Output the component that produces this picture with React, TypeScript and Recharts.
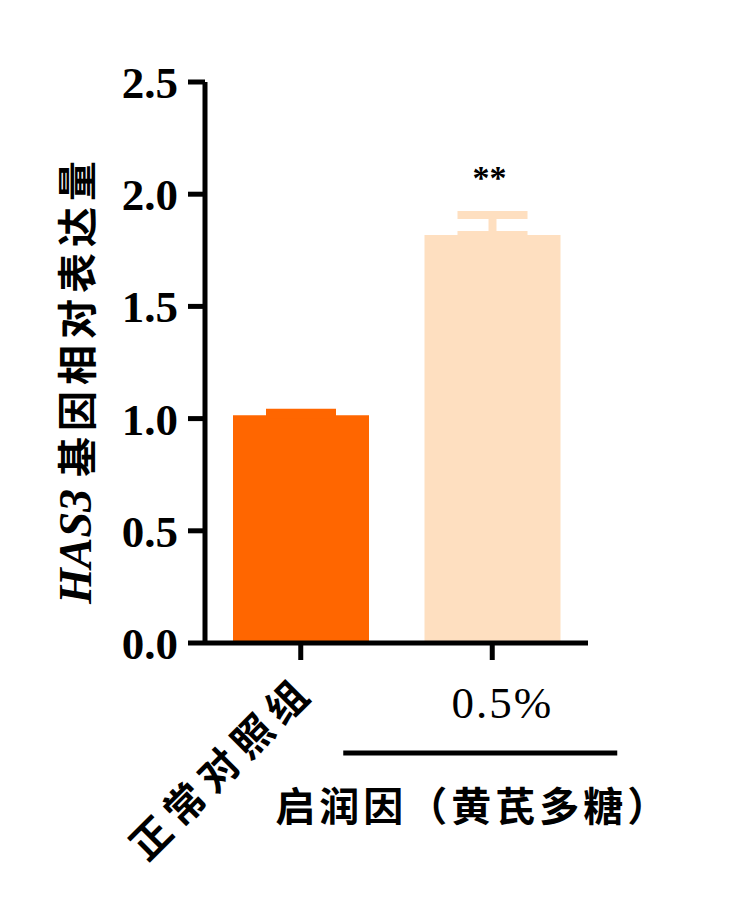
import React from 'react';
import { BarChart, Bar, XAxis, YAxis, ErrorBar, LabelList } from 'recharts';

// values
const categories = ['正常对照组', '0.5%'];
const means = [1.015, 1.818];
const errors = [0.013, 0.089];
const marks = ['', '**'];
const yTicks = [0, 0.5, 1.0, 1.5, 2.0, 2.5];
const groupLabel = '启润因（黄芪多糖）';
const colors = ['#FF6600', '#FEDFC0'];

const rows = categories.map((name, i) => ({
    name,
    control: i === 0 ? means[i] : null,
    controlErr: i === 0 ? [0, errors[i]] : null,
    treated: i === 1 ? means[i] : null,
    treatedErr: i === 1 ? [0, errors[i]] : null,
    mark: marks[i],
}));

const SERIF = '"Liberation Serif", "Times New Roman", serif';
const CJK = '"Noto Sans CJK SC", sans-serif';

function CategoryTick(props: any) {
    const { x, y, payload, index } = props;
    if (index === 0) {
        return (
            <g transform={`translate(${x + 6},${y + 23}) rotate(-45)`}>
                <text textAnchor="end" dy="0.35em" fill="#000" fontFamily={CJK} fontSize={40} fontWeight="bold" letterSpacing={8}>
                    {payload.value}
                </text>
            </g>
        );
    }
    return (
        <g transform={`translate(${x},${y})`}>
            <text x={10} y={58} textAnchor="middle" fill="#000" fontFamily={SERIF} fontSize={45} letterSpacing={2}>
                {payload.value}
            </text>
            <line x1={-149} x2={125} y1={93} y2={93} stroke="#000" strokeWidth={5} />
            <text x={-19} y={144} textAnchor="middle" dominantBaseline="central" fill="#000" fontFamily={CJK} fontSize={40} fontWeight="bold" letterSpacing={4}>
                {groupLabel}
            </text>
        </g>
    );
}

function YTitle(props: any) {
    const { viewBox } = props;
    const cx = 75;
    const cy = viewBox.y + viewBox.height / 2 + 17;
    return (
        <text transform={`translate(${cx},${cy}) rotate(-90)`} textAnchor="middle" dominantBaseline="central" fill="#000">
            <tspan fontFamily={SERIF} fontStyle="italic" fontWeight="bold" fontSize={46}>HAS3</tspan>
            <tspan fontFamily={CJK} fontWeight="bold" fontSize={40} letterSpacing={6} dx={12}>基因相对表达量</tspan>
        </text>
    );
}

function Stars(props: any) {
    const { x, y, width, value } = props;
    if (!value) return null;
    return (
        <text x={x + width / 2 - 3} y={y - 46} textAnchor="middle" fill="#000" fontFamily={SERIF} fontWeight="bold" fontSize={34}>
            {value}
        </text>
    );
}

export default function App() {
    return (
        <div style={{ position: 'absolute', left: 0, top: 0, width: 750, height: 907, background: '#fff' }}>
            <BarChart width={750} height={907} data={rows} barSize={136} barGap={-136}
                margin={{ top: 82, right: 162, bottom: 0, left: 0 }}>
                <YAxis
                    width={205}
                    domain={[0, 2.5]}
                    ticks={yTicks}
                    interval={0}
                    tickFormatter={(v: number) => v.toFixed(1)}
                    axisLine={{ stroke: '#000', strokeWidth: 5 }}
                    tickLine={{ stroke: '#000', strokeWidth: 5 }}
                    tickSize={17}
                    tickMargin={10}
                    tick={{ fill: '#000', fontSize: 45, fontFamily: SERIF, fontWeight: 'bold' }}
                    label={{ content: <YTitle /> }}
                />
                <XAxis
                    dataKey="name"
                    height={264}
                    interval={0}
                    axisLine={{ stroke: '#000', strokeWidth: 5 }}
                    tickLine={{ stroke: '#000', strokeWidth: 5 }}
                    tickSize={17}
                    tickMargin={0}
                    tick={<CategoryTick />}
                />
                <Bar dataKey="control" fill={colors[0]} isAnimationActive={false}>
                    <ErrorBar dataKey="controlErr" direction="y" width={35} stroke={colors[0]} strokeWidth={7} isAnimationActive={false} />
                </Bar>
                <Bar dataKey="treated" fill={colors[1]} isAnimationActive={false}>
                    <ErrorBar dataKey="treatedErr" direction="y" width={35} stroke={colors[1]} strokeWidth={8} isAnimationActive={false} />
                    <LabelList dataKey="mark" content={<Stars />} />
                </Bar>
            </BarChart>
        </div>
    );
}
